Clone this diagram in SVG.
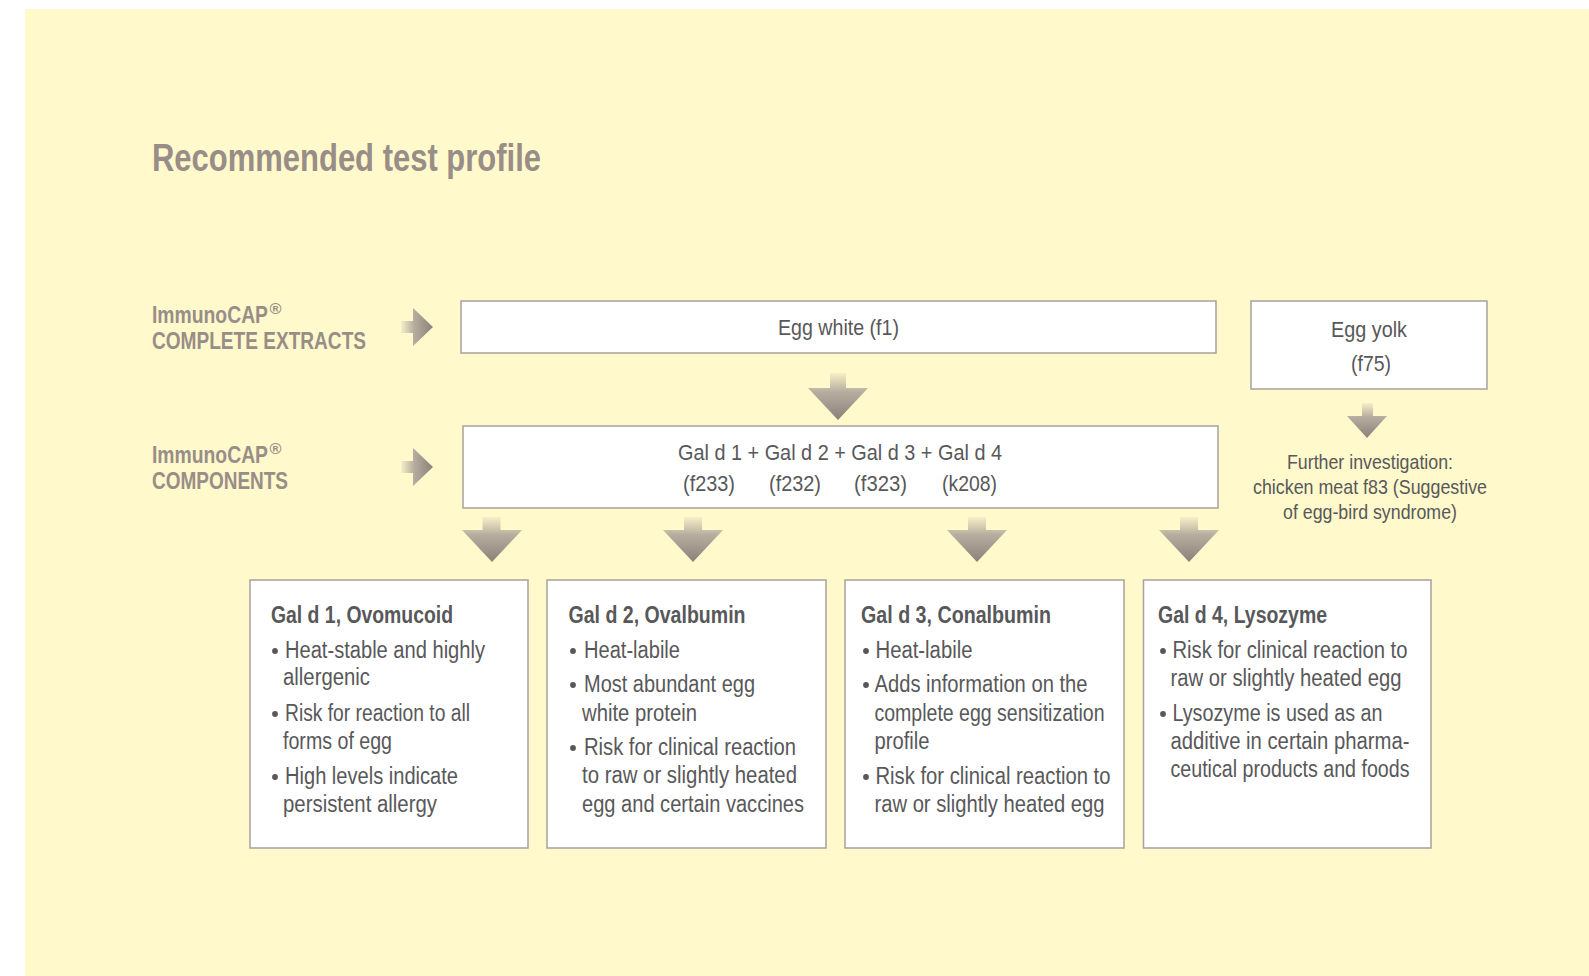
<svg xmlns="http://www.w3.org/2000/svg" width="1589" height="976" viewBox="0 0 1589 976">
<style>
text{font-family:"Liberation Sans Narrow","Liberation Sans",Arial,sans-serif;}
.hd{fill:#998d88;font-weight:bold;}
.lb{fill:#998d88;font-weight:bold;font-size:24px;}
.reg{fill:#998d88;font-weight:bold;font-size:15px;}
.box{fill:#ffffff;stroke:#a8a19c;stroke-width:1.5;}
.t{fill:#58585a;font-size:22px;}
.b{fill:#58585a;font-size:23px;}
.bt{fill:#58585a;font-size:23px;font-weight:bold;}
.f{fill:#58585a;font-size:21px;}
.dot{fill:#58585a;}
</style>
<defs>
<linearGradient id="gd" x1="0" y1="0" x2="0" y2="1">
<stop offset="0" stop-color="#f7efc6"/>
<stop offset="0.4" stop-color="#b7ad9f"/>
<stop offset="1" stop-color="#8c8079"/>
</linearGradient>
<linearGradient id="gr" x1="0" y1="0" x2="1" y2="0">
<stop offset="0" stop-color="#f7efc6"/>
<stop offset="0.4" stop-color="#b7ad9f"/>
<stop offset="1" stop-color="#8c8079"/>
</linearGradient>
</defs>
<rect x="25" y="9" width="1564" height="967" fill="#fff9cc"/>
<text class="hd" x="152" y="171" font-size="38" textLength="389" lengthAdjust="spacingAndGlyphs">Recommended test profile</text>

<g id="label-extracts">
<text class="lb" x="152" y="323" textLength="116" lengthAdjust="spacingAndGlyphs">ImmunoCAP</text>
<text class="reg" x="269.5" y="314" textLength="12" lengthAdjust="spacingAndGlyphs">®</text>
<text class="lb" x="152" y="349" textLength="214" lengthAdjust="spacingAndGlyphs">COMPLETE EXTRACTS</text>
</g>
<g id="label-components">
<text class="lb" x="152" y="463" textLength="116" lengthAdjust="spacingAndGlyphs">ImmunoCAP</text>
<text class="reg" x="269.5" y="454" textLength="12" lengthAdjust="spacingAndGlyphs">®</text>
<text class="lb" x="152" y="489" textLength="136" lengthAdjust="spacingAndGlyphs">COMPONENTS</text>
</g>

<g id="connectors">
<path d="M401,321 H413 V308 L433,327 L413,346 V333 H401 Z" fill="url(#gr)"/>
<path d="M401,461 H413 V448 L433,467 L413,486 V473 H401 Z" fill="url(#gr)"/>
<path d="M830,373 V388 H808 L838,420 L868,388 H846 V373 Z" fill="url(#gd)"/>
<path d="M482.5,517 V530 H462 L492,562 L522,530 H500.5 V517 Z" fill="url(#gd)"/>
<path d="M684,517 V530 H663 L693,562 L723,530 H702 V517 Z" fill="url(#gd)"/>
<path d="M968,517 V530 H947 L977,562 L1007,530 H986 V517 Z" fill="url(#gd)"/>
<path d="M1180,517 V530 H1159 L1189,562 L1219,530 H1198 V517 Z" fill="url(#gd)"/>
<path d="M1362,403 V416 H1347 L1367,438 L1387,416 H1373 V403 Z" fill="url(#gd)"/>
</g>

<g id="egg-white">
<rect class="box" x="461" y="301" width="755" height="52"/>
<text class="t" x="778" y="335" textLength="121" lengthAdjust="spacingAndGlyphs">Egg white (f1)</text>
</g>
<g id="egg-yolk">
<rect class="box" x="1251" y="301" width="236" height="88"/>
<text class="t" x="1331" y="337" textLength="76" lengthAdjust="spacingAndGlyphs">Egg yolk</text>
<text class="t" x="1351" y="371" textLength="40" lengthAdjust="spacingAndGlyphs">(f75)</text>
</g>
<g id="components">
<rect class="box" x="463" y="426" width="755" height="82"/>
<text class="t" x="678" y="460" font-size="21" textLength="324" lengthAdjust="spacingAndGlyphs">Gal d 1 + Gal d 2 + Gal d 3 + Gal d 4</text>
<text class="t" x="683" y="491" font-size="21" textLength="52" lengthAdjust="spacingAndGlyphs">(f233)</text>
<text class="t" x="769" y="491" font-size="21" textLength="52" lengthAdjust="spacingAndGlyphs">(f232)</text>
<text class="t" x="854" y="491" font-size="21" textLength="53" lengthAdjust="spacingAndGlyphs">(f323)</text>
<text class="t" x="942" y="491" font-size="21" textLength="55" lengthAdjust="spacingAndGlyphs">(k208)</text>
</g>
<g id="further">
<text class="f" x="1287" y="469" textLength="166" lengthAdjust="spacingAndGlyphs">Further investigation:</text>
<text class="f" x="1253" y="494" textLength="234" lengthAdjust="spacingAndGlyphs">chicken meat f83 (Suggestive</text>
<text class="f" x="1283" y="519" textLength="174" lengthAdjust="spacingAndGlyphs">of egg-bird syndrome)</text>
</g>

<g id="gald1">
<rect class="box" x="250" y="580" width="278" height="268"/>
<text class="bt" x="271" y="623" textLength="182" lengthAdjust="spacingAndGlyphs">Gal d 1, Ovomucoid</text>
<circle class="dot" cx="275" cy="651" r="2.9"/>
<text class="b" x="285" y="658" textLength="200" lengthAdjust="spacingAndGlyphs">Heat-stable and highly</text>
<text class="b" x="283" y="685" textLength="87" lengthAdjust="spacingAndGlyphs">allergenic</text>
<circle class="dot" cx="275" cy="714" r="2.9"/>
<text class="b" x="285" y="721" textLength="185" lengthAdjust="spacingAndGlyphs">Risk for reaction to all</text>
<text class="b" x="283" y="749" textLength="109" lengthAdjust="spacingAndGlyphs">forms of egg</text>
<circle class="dot" cx="275" cy="777" r="2.9"/>
<text class="b" x="285" y="784" textLength="173" lengthAdjust="spacingAndGlyphs">High levels indicate</text>
<text class="b" x="283" y="812" textLength="154" lengthAdjust="spacingAndGlyphs">persistent allergy</text>
</g>

<g id="gald2">
<rect class="box" x="547" y="580" width="279" height="268"/>
<text class="bt" x="568.5" y="623" textLength="177" lengthAdjust="spacingAndGlyphs">Gal d 2, Ovalbumin</text>
<circle class="dot" cx="573" cy="651" r="2.9"/>
<text class="b" x="584" y="658" textLength="96" lengthAdjust="spacingAndGlyphs">Heat-labile</text>
<circle class="dot" cx="573" cy="685" r="2.9"/>
<text class="b" x="584" y="692" textLength="171" lengthAdjust="spacingAndGlyphs">Most abundant egg</text>
<text class="b" x="582" y="721" textLength="115" lengthAdjust="spacingAndGlyphs">white protein</text>
<circle class="dot" cx="573" cy="748" r="2.9"/>
<text class="b" x="584" y="755" textLength="212" lengthAdjust="spacingAndGlyphs">Risk for clinical reaction</text>
<text class="b" x="582" y="783" textLength="215" lengthAdjust="spacingAndGlyphs">to raw or slightly heated</text>
<text class="b" x="582" y="812" textLength="222" lengthAdjust="spacingAndGlyphs">egg and certain vaccines</text>
</g>

<g id="gald3">
<rect class="box" x="845" y="580" width="279" height="268"/>
<text class="bt" x="861" y="623" textLength="190" lengthAdjust="spacingAndGlyphs">Gal d 3, Conalbumin</text>
<circle class="dot" cx="866" cy="651" r="2.9"/>
<text class="b" x="875.5" y="658" textLength="97" lengthAdjust="spacingAndGlyphs">Heat-labile</text>
<circle class="dot" cx="866" cy="685" r="2.9"/>
<text class="b" x="874.5" y="692" textLength="213" lengthAdjust="spacingAndGlyphs">Adds information on the</text>
<text class="b" x="874.5" y="721" textLength="230" lengthAdjust="spacingAndGlyphs">complete egg sensitization</text>
<text class="b" x="874.5" y="749" textLength="55" lengthAdjust="spacingAndGlyphs">profile</text>
<circle class="dot" cx="866" cy="777" r="2.9"/>
<text class="b" x="875.5" y="784" textLength="235" lengthAdjust="spacingAndGlyphs">Risk for clinical reaction to</text>
<text class="b" x="874.5" y="812" textLength="230" lengthAdjust="spacingAndGlyphs">raw or slightly heated egg</text>
</g>

<g id="gald4">
<rect class="box" x="1143.5" y="580" width="287.5" height="268"/>
<text class="bt" x="1158" y="623" textLength="169" lengthAdjust="spacingAndGlyphs">Gal d 4, Lysozyme</text>
<circle class="dot" cx="1163" cy="651" r="2.9"/>
<text class="b" x="1172.5" y="658" textLength="235" lengthAdjust="spacingAndGlyphs">Risk for clinical reaction to</text>
<text class="b" x="1170.5" y="686" textLength="231" lengthAdjust="spacingAndGlyphs">raw or slightly heated egg</text>
<circle class="dot" cx="1163" cy="714" r="2.9"/>
<text class="b" x="1172.5" y="721" textLength="210" lengthAdjust="spacingAndGlyphs">Lysozyme is used as an</text>
<text class="b" x="1170.5" y="749" textLength="239" lengthAdjust="spacingAndGlyphs">additive in certain pharma-</text>
<text class="b" x="1170.5" y="777" textLength="239" lengthAdjust="spacingAndGlyphs">ceutical products and foods</text>
</g>
</svg>
